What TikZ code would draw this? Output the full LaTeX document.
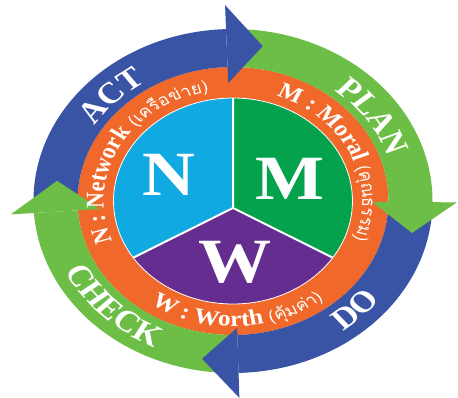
\documentclass[tikz,border=0pt]{standalone}
\usepackage{fontspec}
\setmainfont{Liberation Serif}
\newfontfamily\thaifont[Script=Thai]{Loma}
\definecolor{bandblue}{HTML}{3954A5}
\definecolor{bandgreen}{HTML}{6DBE46}
\definecolor{ringorange}{HTML}{F0682A}
\definecolor{piecyan}{HTML}{11A9E2}
\definecolor{piegreen}{HTML}{05A24E}
\definecolor{piepurple}{HTML}{652D90}
\newdimen\rtw
\newdimen\rtsum
\newbox\rtbox
\newcommand\tf{\thaifont\mdseries\fontsize{16}{18}\selectfont}
\newcommand\rlf{\bfseries\fontsize{22}{24}\selectfont}
\newcommand\blf{\bfseries\fontsize{30}{32}\selectfont}
\newcommand\rtmeasure[1]{%
  \setbox\rtbox=\hbox{\pgfinterruptpicture#1\endpgfinterruptpicture}%
  \global\rtw=\wd\rtbox\relax}
% #1 baseline radius, #2 centre angle, #3 direction (1 clockwise, -1 counter-clockwise), #4 font, #5 tracking, #6 list
\newcommand\ringtext[6]{%
  \global\rtsum=0pt\relax
  \foreach \rtch in {#6}{%
    \rtmeasure{#4\rtch}%
    \global\advance\rtsum by \rtw
    \global\advance\rtsum by #5pt\relax
  }%
  \pgfmathsetmacro\rttot{(\rtsum - #5)/#1*180/pi}%
  \pgfmathsetmacro\rtcur{#2 + #3*\rttot/2}%
  \xdef\rtang{\rtcur}%
  \foreach \rtch in {#6}{%
    \rtmeasure{#4\rtch}%
    \pgfmathsetmacro\rtd{\rtw/#1*180/pi}%
    \pgfmathsetmacro\rtg{(\rtw + #5)/#1*180/pi}%
    \pgfmathsetmacro\rtmid{\rtang - #3*\rtd/2}%
    \pgfmathsetmacro\rtrot{\rtmid - #3*90}%
    \node[ringchar, rotate=\rtrot] at (\rtmid:#1pt) {#4\rtch};
    \pgfmathsetmacro\rtnext{\rtang - #3*\rtg}%
    \xdef\rtang{\rtnext}%
  }%
}
\tikzset{
  ringchar/.style={anchor=base, inner sep=0pt, text=white},
  pieletter/.style={text=white, inner sep=0pt, font=\bfseries\fontsize{63}{63}\selectfont},
  pieline/.style={white, line width=2pt}
}
\begin{document}
\begin{tikzpicture}
\useasboundingbox (0,0) rectangle (458pt,397pt);
\clip (0,0) rectangle (458pt,397pt);
\fill[white] (0,0) rectangle (458pt,397pt);
\begin{scope}[shift={(233pt,196pt)}, xscale=1.16, transform shape]
  % orange ring
  \fill[ringorange] (0,0) circle[radius=134pt];
  % pie
  \coordinate (J) at (0pt,-7pt);
  \begin{scope}
    \clip (0,0) circle[radius=103pt];
    \fill[piecyan] (J) -- +(90:300pt) -- +(150:300pt) -- +(210:300pt) -- cycle;
    \fill[piepurple] (J) -- +(210:300pt) -- +(270:300pt) -- +(330:300pt) -- cycle;
    \fill[piegreen] (J) -- +(330:300pt) -- +(30:300pt) -- +(90:300pt) -- cycle;
    \draw[pieline] (J) -- +(90:300pt) (J) -- +(210:300pt) (J) -- +(330:300pt);
  \end{scope}
  \draw[white, line width=0.8pt] (0,0) circle[radius=103pt];
  % bands
  \fill[bandblue] (182:172pt) arc[start angle=182, end angle=92, radius=172pt] -- (92:134pt) arc[start angle=92, end angle=182, radius=134pt] -- cycle;
  \fill[bandgreen] (90:172pt) arc[start angle=90, end angle=-0.4, radius=172pt] -- (-0.4:134pt) arc[start angle=-0.4, end angle=90, radius=134pt] -- cycle;
  \fill[bandblue] (-2.4:172pt) arc[start angle=-2.4, end angle=-88.4, radius=172pt] -- (-88.4:134pt) arc[start angle=-88.4, end angle=-2.4, radius=134pt] -- cycle;
  \fill[bandgreen] (-90.4:172pt) arc[start angle=-90.4, end angle=-176, radius=172pt] -- (-176:134pt) arc[start angle=-176, end angle=-90.4, radius=134pt] -- cycle;
  % arrow heads
  \fill[bandblue] (92:118pt) -- (92:196pt) -- (80.6:157pt) -- cycle;
  \fill[bandgreen] (-0.4:120pt) -- (-0.4:193pt) -- (-11.7:157.6pt) -- cycle;
  \fill[bandblue] (-88.4:127pt) -- (-88.4:197pt) -- (-99.6:160pt) -- cycle;
  \fill[bandgreen] (184:115pt) -- (184:192pt) -- (172.4:153pt) -- cycle;
  % pie letters
  \node[pieletter] (N) at (-55.6pt,26pt) {N};
  \node[pieletter] (M) at (49pt,22pt) {M};
  \node[pieletter] (W) at (1.7pt,-61pt) {W};
  % band labels
  \ringtext{141}{135}{1}{\blf}{0}{A,C,T}
  \ringtext{141}{35}{1}{\blf}{0}{P,L,A,N}
  \ringtext{161}{-46}{-1}{\blf}{0}{D,O}
  \ringtext{161}{-134.5}{-1}{\blf}{0}{C,H,E,C,K}
  % ring labels
  \ringtext{111.5}{25}{1}{\rlf}{0}{M,~,:,~,M,o,r,a,l,~,\tf(,\tf คุ,\tf ณ,\tf ธ,\tf ร,\tf ร,\tf ม,\tf)}
  \ringtext{111.5}{151}{1}{\rlf}{0}{N,~,:,~,N,e,t,w,o,r,k,~,\tf(,\tf เ,\tf ค,\tf รื,\tf อ,\tf ข่,\tf า,\tf ย,\tf)}
  \ringtext{125.5}{-88}{-1}{\rlf}{0}{W,~,:,~,W,o,r,t,h,~,\tf(,\tf คุ้,\tf ม,\tf ค่,\tf า,\tf)}
\end{scope}
\end{tikzpicture}
\end{document}
